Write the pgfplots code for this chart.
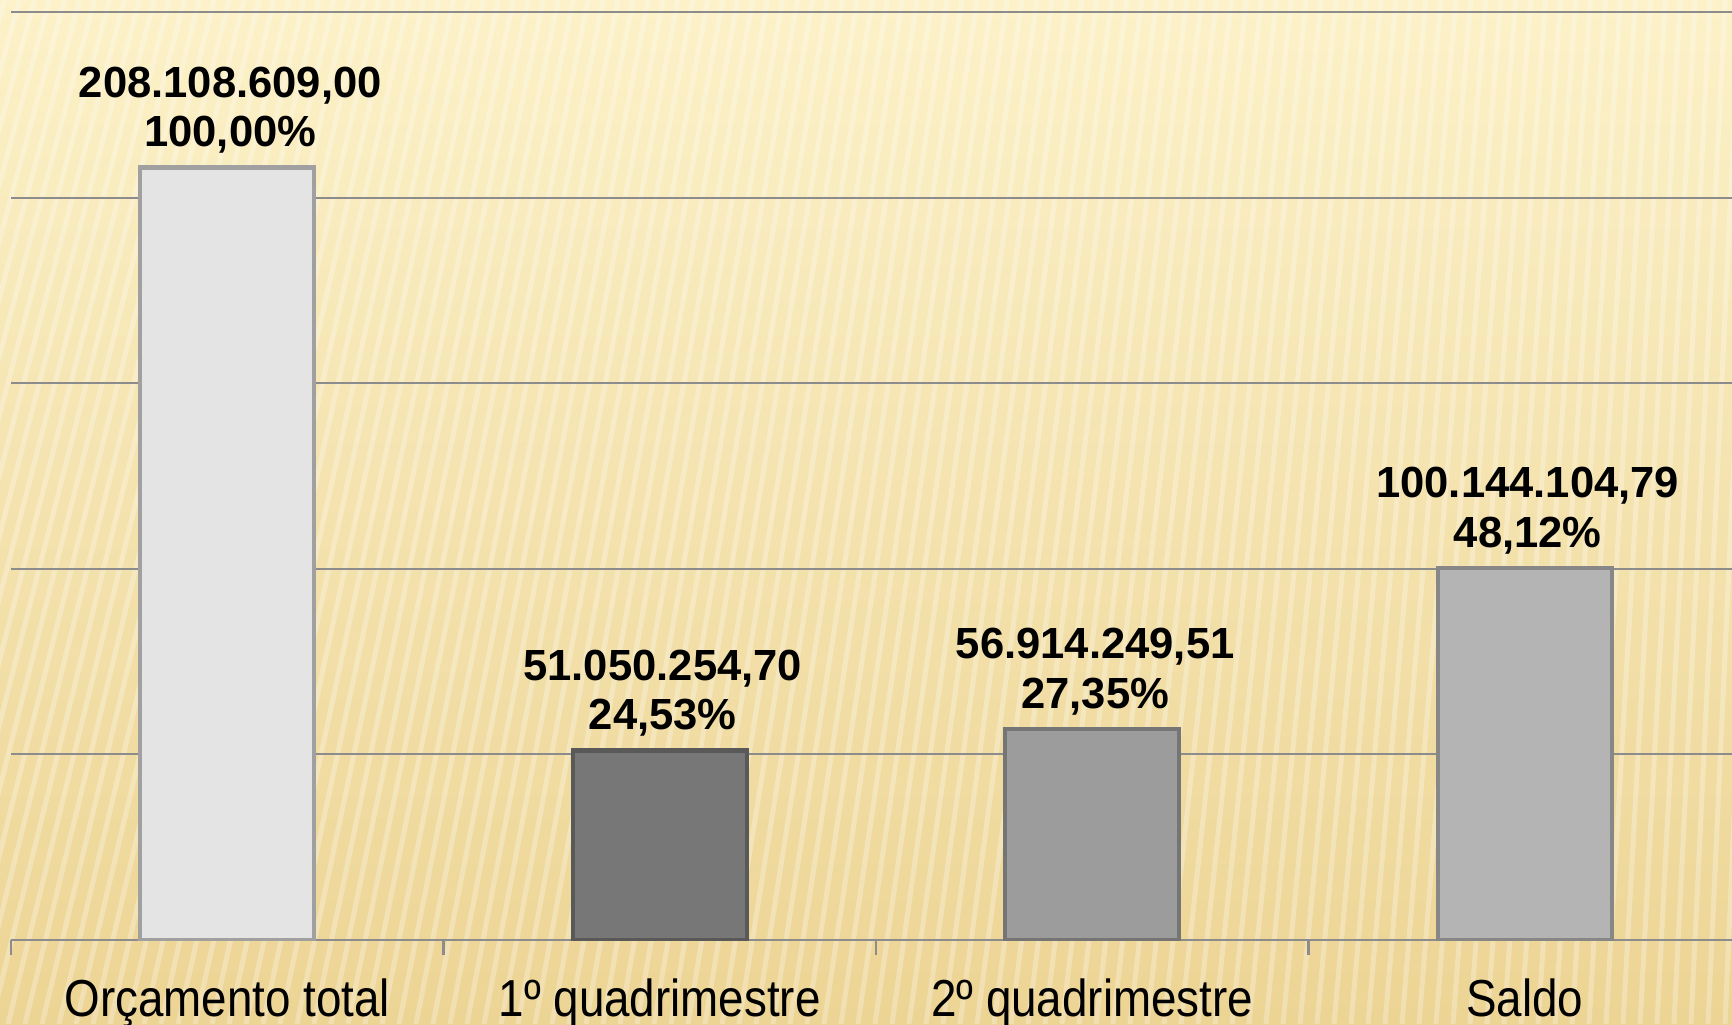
\documentclass[border=0pt]{standalone}
\usepackage{fontspec}
\setmainfont{Liberation Sans}
\newfontfamily\condfont{Liberation Sans}[FakeStretch=0.88]
\usepackage{pgfplots}
\pgfplotsset{compat=1.18}
\definecolor{gridgray}{RGB}{140,140,140}
\definecolor{bgtop}{RGB}{252,241,200}
\definecolor{bgbot}{RGB}{236,212,148}
\definecolor{barA}{RGB}{228,228,228}
\definecolor{barB}{RGB}{119,119,119}
\definecolor{barC}{RGB}{156,156,156}
\definecolor{barD}{RGB}{180,180,180}
\begin{document}
\begin{tikzpicture}
\shade[top color=bgtop, bottom color=bgbot] (0,0) rectangle (17.32,10.24);
\begin{scope}
\clip (0,0) rectangle (17.32,10.24);
\foreach \i in {0,...,130}{
  \pgfmathsetmacro{\xb}{\i*0.17-4}
  \pgfmathsetmacro{\xt}{\xb+3.0-0.12*(\xb+4)}
  \draw[white, opacity=0.28, line width=0.05cm] (\xb,0) -- (\xt,10.24);
}
\end{scope}
\begin{axis}[
  at={(0.11cm,0.84cm)}, anchor=south west, scale only axis,
  width=17.30cm, height=9.28cm,
  xmin=-0.5, xmax=3.5, ymin=0, ymax=250e6,
  axis x line*=bottom, axis y line*=left,
  y axis line style={draw=none},
  x axis line style={draw=gridgray, line width=0.6pt},
  ytick={0,50e6,100e6,150e6,200e6,250e6}, yticklabels={},
  ytick style={draw=none},
  ymajorgrids, grid style={gridgray, line width=0.6pt},
  scaled y ticks=false,
  xtick={0,1,2,3},
  xticklabels={Orçamento total, 1º quadrimestre, 2º quadrimestre, Saldo},
  major x tick style={draw=none}, major tick length=0pt,
  minor xtick={-0.5,0.5,1.5,2.5,3.5},
  minor x tick style={draw=gridgray, line width=0.6pt}, minor tick length=0.15cm,
  tick align=outside,
  xticklabel style={font=\condfont\fontsize{14.8}{16}\selectfont, yshift=-0.26cm},
  ybar, bar width=1.74cm,
  nodes near coords, point meta=explicit symbolic,
  nodes near coords style={font=\bfseries\fontsize{12.4}{14.2}\selectfont, align=center, anchor=south, text=black, xshift=0.03cm},
]
\addplot[bar shift=0pt, fill=barA, draw=barA!70!black, line width=1.2pt] coordinates {(0,208108609.00) [208.108.609,00\\100,00\%]};
\addplot[bar shift=0pt, fill=barB, draw=barB!75!black, line width=1.2pt] coordinates {(1,51050254.70) [51.050.254,70\\24,53\%]};
\addplot[bar shift=0pt, fill=barC, draw=barC!75!black, line width=1.2pt] coordinates {(2,56914249.51) [56.914.249,51\\27,35\%]};
\addplot[bar shift=0pt, fill=barD, draw=barD!75!black, line width=1.2pt] coordinates {(3,100144104.79) [100.144.104,79\\48,12\%]};
\end{axis}
\pgfresetboundingbox
\path[use as bounding box] (0,0) rectangle (17.32,10.24);
\end{tikzpicture}
\end{document}
